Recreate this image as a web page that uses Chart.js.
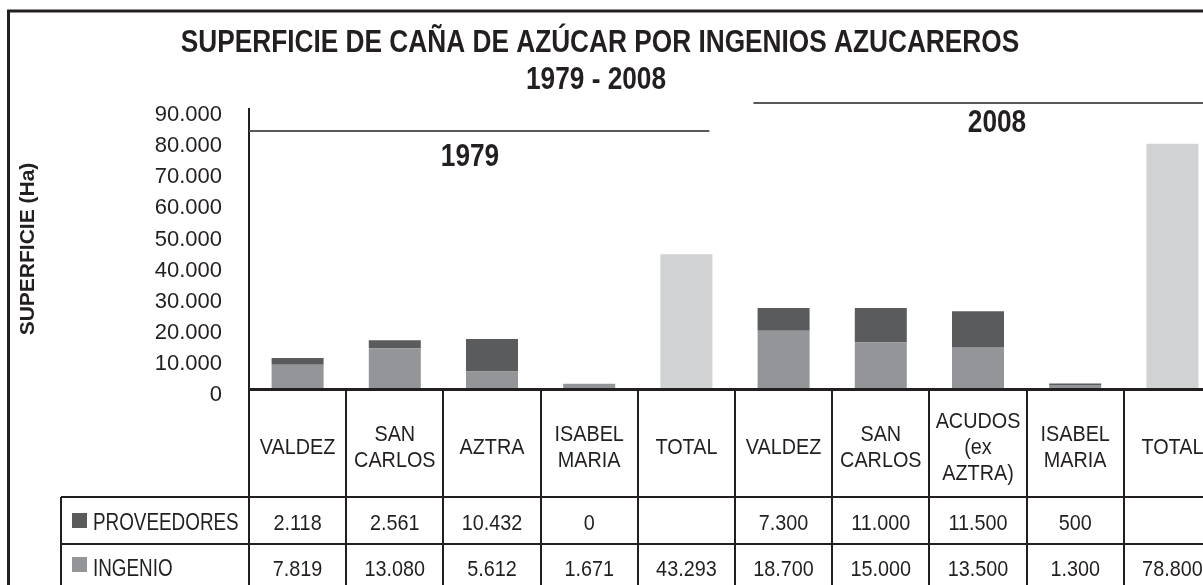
<!DOCTYPE html>
<html>
<head>
<meta charset="utf-8">
<script src="https://cdn.jsdelivr.net/npm/chart.js@4.4.1/dist/chart.umd.min.js"></script>
<style>
  html, body { margin: 0; padding: 0; overflow: hidden; background: #fff; }
  #wrap { width: 1221px; height: 585px; position: relative; }
</style>
</head>
<body>
<div id="wrap"><canvas id="myChart"></canvas></div>
<script>
// datos
const ingenios = [['VALDEZ'], ['SAN', 'CARLOS'], ['AZTRA'], ['ISABEL', 'MARIA'], ['TOTAL'],
                  ['VALDEZ'], ['SAN', 'CARLOS'], ['ACUDOS', '(ex', 'AZTRA)'], ['ISABEL', 'MARIA'], ['TOTAL']];
const proveedores = [2118, 2561, 10432, 0, null, 7300, 11000, 11500, 500, null];
const ingenio = [7819, 13080, 5612, 1671, 43293, 18700, 15000, 13500, 1300, 78800];
const yTicks = [0, 10000, 20000, 30000, 40000, 50000, 60000, 70000, 80000, 90000];
const periodos = ['1979', '2008'];
const titulo = 'SUPERFICIE DE CAÑA DE AZÚCAR POR INGENIOS AZUCAREROS';
const subtitulo = '1979 - 2008';
const tituloY = 'SUPERFICIE (Ha)';

const TINTA = '#231f20';
const GRIS_OSCURO = '#5a5b5d';
const GRIS_MEDIO = '#949598';
const GRIS_CLARO = '#d1d2d4';
const FUENTE = "'Liberation Sans', Arial, sans-serif";

// separador de miles con punto
const fmt = v => (v === null || v === undefined) ? '' : String(v).replace(/\B(?=(\d{3})+(?!\d))/g, '.');

// las columnas TOTAL van en gris claro
const coloresIngenio = ingenios.map(l => l[0] === 'TOTAL' ? GRIS_CLARO : GRIS_MEDIO);

Chart.defaults.font.family = FUENTE;
Chart.defaults.color = TINTA;

// texto condensado horizontalmente (el original usa una letra estrecha)
function textoEstrecho(ctx, texto, x, y, factor) {
  ctx.save();
  ctx.translate(x, y);
  ctx.scale(factor, 1);
  ctx.fillText(texto, 0, 0);
  ctx.restore();
}

// titulos, lineas de periodo, marco y tabla de datos
const tablaPlugin = {
  id: 'tabla',
  afterDraw(chart) {
    const { ctx, chartArea } = chart;
    const x = chart.scales.x;
    const ancho = x.getPixelForValue(1) - x.getPixelForValue(0);
    const fin = chart.width;
    const y0 = chartArea.bottom;
    const yCab = y0 + 108;
    const yProv = yCab + 47;
    const yIng = yProv + 47;
    const izqLeyenda = 61;

    ctx.save();
    ctx.fillStyle = TINTA;
    ctx.textAlign = 'center';
    ctx.textBaseline = 'alphabetic';

    // titulo
    ctx.font = 'bold 32px ' + FUENTE;
    textoEstrecho(ctx, titulo, 600, 52, 0.82);
    textoEstrecho(ctx, subtitulo, 596, 89, 0.82);

    // marco
    ctx.strokeStyle = TINTA;
    ctx.lineWidth = 3;
    ctx.beginPath();
    ctx.moveTo(8.5, chart.height);
    ctx.lineTo(8.5, 11);
    ctx.lineTo(fin, 11);
    ctx.stroke();

    // lineas de periodo
    ctx.strokeStyle = '#58595b';
    ctx.lineWidth = 2;
    const finP1 = x.getPixelForValue(4) + 23;
    const iniP2 = x.getPixelForValue(4) + 67;
    ctx.beginPath();
    ctx.moveTo(chartArea.left, 131);
    ctx.lineTo(finP1, 131);
    ctx.moveTo(iniP2, 103);
    ctx.lineTo(fin, 103);
    ctx.stroke();
    textoEstrecho(ctx, periodos[0], 470, 166, 0.82);
    textoEstrecho(ctx, periodos[1], 997, 132, 0.82);

    // tabla
    ctx.strokeStyle = TINTA;
    ctx.lineWidth = 2;
    ctx.beginPath();
    ctx.moveTo(izqLeyenda, yCab);
    ctx.lineTo(fin, yCab);
    ctx.moveTo(izqLeyenda, yProv);
    ctx.lineTo(fin, yProv);
    ctx.moveTo(izqLeyenda, yCab);
    ctx.lineTo(izqLeyenda, chart.height);
    for (let i = 0; i <= ingenios.length; i++) {
      const xi = Math.round(x.getPixelForValue(i) - ancho / 2);
      ctx.moveTo(xi, y0);
      ctx.lineTo(xi, chart.height);
    }
    ctx.stroke();
    ctx.lineWidth = 3;
    ctx.beginPath();
    ctx.moveTo(chartArea.left, y0 + 0.5);
    ctx.lineTo(fin, y0 + 0.5);
    ctx.stroke();

    ctx.font = '22px ' + FUENTE;
    ctx.textBaseline = 'middle';
    const alto = 26;
    ingenios.forEach((lineas, i) => {
      const xc = x.getPixelForValue(i);
      const yc = (y0 + yCab) / 2 + 5 - (lineas.length - 1) * alto / 2;
      lineas.forEach((t, j) => textoEstrecho(ctx, t, xc, yc + j * alto, 0.9));
      textoEstrecho(ctx, fmt(proveedores[i]), xc, (yCab + yProv) / 2 + 3, 0.9);
      textoEstrecho(ctx, fmt(ingenio[i]), xc, (yProv + yIng) / 2 + 2, 0.9);
    });

    // leyenda dentro de la tabla
    ctx.textAlign = 'left';
    ctx.fillStyle = GRIS_OSCURO;
    ctx.fillRect(72, yCab + 16, 15, 15);
    ctx.fillStyle = GRIS_MEDIO;
    ctx.fillRect(72, yProv + 13, 15, 15);
    ctx.fillStyle = TINTA;
    ctx.font = '23px ' + FUENTE;
    textoEstrecho(ctx, 'PROVEEDORES', 93, (yCab + yProv) / 2 + 3, 0.82);
    textoEstrecho(ctx, 'INGENIO', 93, (yProv + yIng) / 2 + 2, 0.82);
    ctx.restore();
  }
};

const ctxChart = document.getElementById('myChart');
const myChart = new Chart(ctxChart, {
  type: 'bar',
  data: {
    labels: ingenios,
    datasets: [
      {
        label: 'INGENIO',
        data: ingenio,
        backgroundColor: coloresIngenio,
        barPercentage: 0.535,
        categoryPercentage: 1
      },
      {
        label: 'PROVEEDORES',
        data: proveedores,
        backgroundColor: GRIS_OSCURO,
        barPercentage: 0.535,
        categoryPercentage: 1
      }
    ]
  },
  options: {
    responsive: true,
    maintainAspectRatio: false,
    animation: false,
    layout: { padding: { left: 8, top: 109, bottom: 196, right: 0 } },
    plugins: {
      legend: { display: false },
      tooltip: { enabled: false },
      title: { display: false }
    },
    scales: {
      x: {
        stacked: true,
        display: false
      },
      y: {
        stacked: true,
        min: 0,
        max: 90000,
        afterBuildTicks: scale => { scale.ticks = yTicks.map(v => ({ value: v })); },
        afterFit: scale => { scale.width = 241; },
        grid: { display: false, drawTicks: false },
        border: { display: true, color: TINTA, width: 2 },
        ticks: {
          autoSkip: false,
          padding: 27,
          labelOffset: 6,
          color: TINTA,
          font: { size: 22 },
          callback: v => fmt(v)
        },
        title: {
          display: true,
          text: tituloY,
          color: TINTA,
          font: { size: 21, weight: 'bold' },
          padding: { top: 8, bottom: 0 }
        }
      }
    }
  },
  plugins: [tablaPlugin]
});
</script>
</body>
</html>
